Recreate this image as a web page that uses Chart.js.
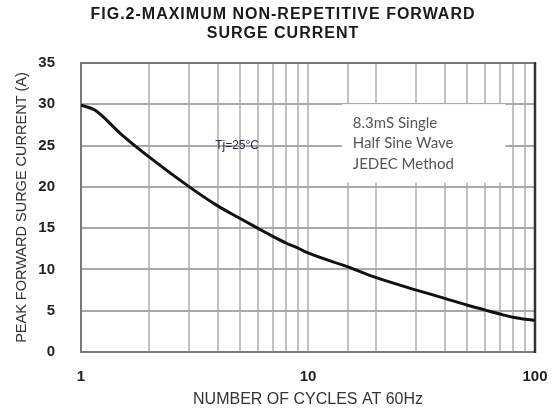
<!DOCTYPE html>
<html>
<head>
<meta charset="utf-8">
<script src="https://cdn.jsdelivr.net/npm/chart.js@4.4.1/dist/chart.umd.min.js"></script>
<style>
html,body{margin:0;padding:0;background:#fff;}
#wrap{width:560px;height:412px;position:relative;}
</style>
</head>
<body>
<div id="wrap"><canvas id="c" width="560" height="412"></canvas></div>
<script>
const titleLines = ['FIG.2-MAXIMUM NON-REPETITIVE FORWARD', 'SURGE CURRENT'];
const xTitle = 'NUMBER OF CYCLES AT 60Hz';
const yTitle = 'PEAK FORWARD SURGE CURRENT (A)';
const cycles = [1, 1.15, 1.5, 2, 3, 4, 5, 6, 7, 8, 9, 10, 15, 20, 30, 40, 50, 60, 70, 80, 100];
const current = [29.9, 29.3, 26.4, 23.6, 20.0, 17.7, 16.2, 15.0, 14.0, 13.2, 12.6, 12.0, 10.3, 9.0, 7.5, 6.5, 5.7, 5.1, 4.6, 4.2, 3.8];
const xTickLabels = [1, 10, 100];
const yTicks = [0, 5, 10, 15, 20, 25, 30, 35];
const noteLines = ['8.3mS Single', 'Half Sine Wave', 'JEDEC Method'];
const noteBox = {x0: 14.1, x1: 74, y0: 29.9, y1: 20.4};
const tjText = 'Tj=25°C';
const tjPos = {x: 3.9, y: 25};

const overlay = {
  id: 'overlay',
  beforeDatasetsDraw(chart) {
    const {ctx, chartArea: a, scales: {x, y}} = chart;
    ctx.save();
    // grid
    ctx.fillStyle = '#c2c2c2';
    x.ticks.forEach(t => {
      const px = Math.round(x.getPixelForValue(t.value));
      ctx.fillRect(px - 1, a.top, 2, a.bottom - a.top);
    });
    ctx.fillStyle = '#a9a9a9';
    yTicks.forEach(v => {
      const py = Math.round(y.getPixelForValue(v));
      ctx.fillRect(a.left, py - 1, a.right - a.left, 2);
    });
    // note box
    const bx0 = x.getPixelForValue(noteBox.x0), bx1 = x.getPixelForValue(noteBox.x1);
    const by0 = y.getPixelForValue(noteBox.y0), by1 = y.getPixelForValue(noteBox.y1);
    ctx.fillStyle = '#fff';
    ctx.fillRect(bx0, by0 - 1, bx1 - bx0, by1 - by0);
    ctx.fillStyle = '#555';
    ctx.font = '15px Lato';
    ctx.textBaseline = 'middle';
    ctx.textAlign = 'left';
    noteLines.forEach((t, i) => ctx.fillText(t, bx0 + 11, by0 + 18 + i * 20.5));
    // Tj text
    ctx.fillStyle = '#2e2448';
    ctx.font = '12px "Liberation Sans"';
    ctx.fillText(tjText, x.getPixelForValue(tjPos.x), y.getPixelForValue(tjPos.y));
    // frame
    ctx.lineWidth = 2;
    ctx.strokeStyle = '#7a7a7a';
    ctx.beginPath();
    ctx.moveTo(a.right, a.top); ctx.lineTo(a.left, a.top); ctx.lineTo(a.left, a.bottom); ctx.lineTo(a.right, a.bottom);
    ctx.stroke();
    ctx.strokeStyle = '#333';
    ctx.lineWidth = 2.5;
    ctx.beginPath();
    ctx.moveTo(a.right, a.top - 1); ctx.lineTo(a.right, a.bottom + 1);
    ctx.stroke();
    // title
    ctx.fillStyle = '#1a1a1a';
    ctx.font = 'bold 16px "Liberation Sans"';
    ctx.letterSpacing = '1px';
    ctx.textAlign = 'center';
    ctx.fillText(titleLines[0], 283, 15);
    ctx.fillText(titleLines[1], 283, 34);
    ctx.restore();
  }
};

new Chart(document.getElementById('c'), {
  type: 'line',
  data: {
    datasets: [{
      data: cycles.map((c, i) => ({x: c, y: current[i]})),
      borderColor: '#111',
      borderWidth: 3,
      pointRadius: 0,
      cubicInterpolationMode: 'monotone',
      fill: false
    }]
  },
  options: {
    responsive: false,
    animation: false,
    layout: {padding: {top: 63, right: 25, left: 0, bottom: 0}},
    plugins: {legend: {display: false}, tooltip: {enabled: false}, title: {display: false}},
    scales: {
      x: {
        type: 'logarithmic',
        min: 1, max: 100,
        afterFit(s) { s.height = 60; },
        grid: {display: false},
        border: {display: false},
        ticks: {
          autoSkip: false, maxRotation: 0, padding: 8,
          color: '#222', font: {family: 'Liberation Sans', size: 15, weight: 'bold'},
          callback(v) { return xTickLabels.includes(v) ? String(v) : ''; }
        },
        title: {display: true, text: xTitle, color: '#333', font: {family: 'Liberation Sans', size: 16}, padding: {top: 3, bottom: 3}}
      },
      y: {
        min: 0, max: 35,
        afterFit(s) { s.width = 81; },
        afterBuildTicks(s) { s.ticks = yTicks.map(v => ({value: v})); },
        grid: {display: false},
        border: {display: false},
        ticks: {padding: 18, color: '#222', font: {family: 'Liberation Sans', size: 15, weight: 'bold'}},
        title: {display: true, text: yTitle, color: '#333', font: {family: 'Liberation Sans', size: 14.5}, padding: {top: 13, bottom: 13}}
      }
    }
  },
  plugins: [overlay]
});
</script>
</body>
</html>
